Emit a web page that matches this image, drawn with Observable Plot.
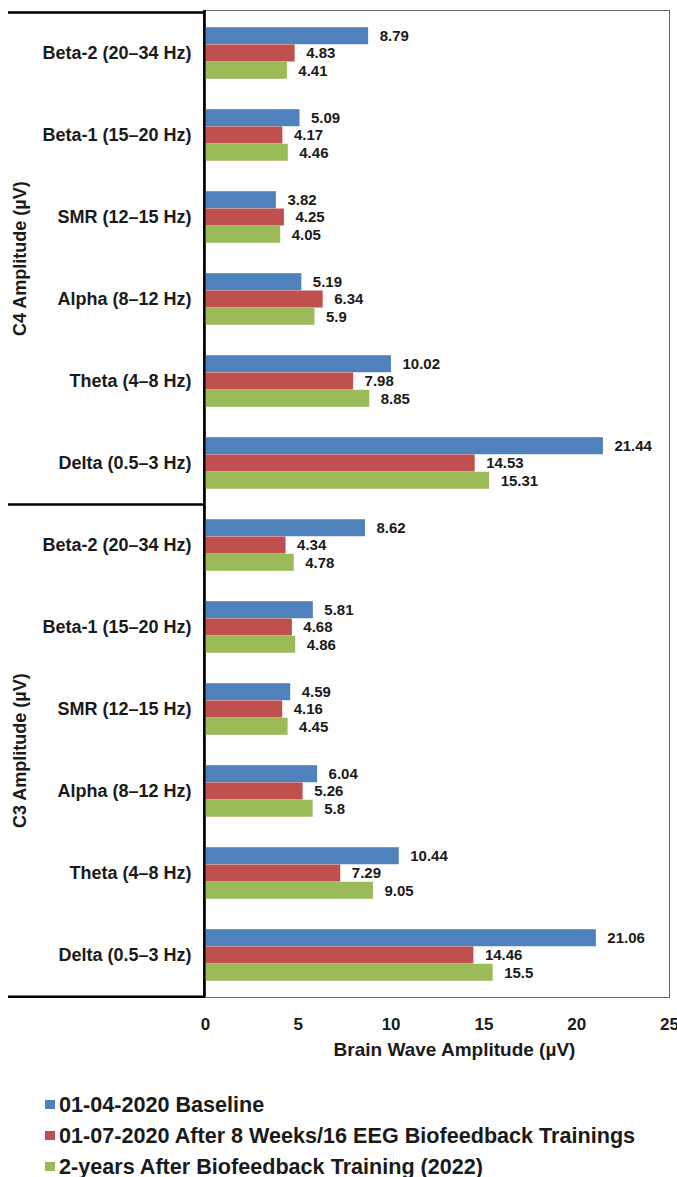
<!DOCTYPE html>
<html>
<head>
<meta charset="utf-8">
<script src="https://cdn.jsdelivr.net/npm/d3@7"></script>
<script src="https://cdn.jsdelivr.net/npm/@observablehq/plot@0.6"></script>
<style>
  html, body { margin: 0; padding: 0; background: #fff; overflow: hidden; width: 677px; }
  #chart svg { display: block; }
  .legend { padding: 9px 0 0 45px; font: bold 21.6px "Liberation Sans", Arial, sans-serif; color: #1a1a1a; }
  .legend .item { display: flex; align-items: center; height: 31px; white-space: nowrap; }
  .legend .sw { width: 10px; height: 9px; margin-right: 4px; flex: none; }
</style>
</head>
<body>
<div id="chart"></div>
<div class="legend" id="legend"></div>
<script>
// Frequency bands, top to bottom within each electrode group
const categories = [
  "Beta-2 (20–34 Hz)",
  "Beta-1 (15–20 Hz)",
  "SMR (12–15 Hz)",
  "Alpha (8–12 Hz)",
  "Theta (4–8 Hz)",
  "Delta (0.5–3 Hz)"
];
const groups = ["C4 Amplitude (µV)", "C3 Amplitude (µV)"];
const series = [
  "01-04-2020 Baseline",
  "01-07-2020 After 8 Weeks/16 EEG Biofeedback Trainings",
  "2-years After Biofeedback Training (2022)"
];
const colors = ["#4F81BD", "#C0504D", "#9BBB59"];

// Amplitudes (µV), in category order
const c4Baseline = [8.79, 5.09, 3.82, 5.19, 10.02, 21.44];
const c4After8Weeks = [4.83, 4.17, 4.25, 6.34, 7.98, 14.53];
const c4TwoYears = [4.41, 4.46, 4.05, 5.9, 8.85, 15.31];
const c3Baseline = [8.62, 5.81, 4.59, 6.04, 10.44, 21.06];
const c3After8Weeks = [4.34, 4.68, 4.16, 5.26, 7.29, 14.46];
const c3TwoYears = [4.78, 4.86, 4.45, 5.8, 9.05, 15.5];

const xTicks = [0, 5, 10, 15, 20, 25];
const xTitle = "Brain Wave Amplitude (µV)";

const valuesByGroup = [
  [c4Baseline, c4After8Weeks, c4TwoYears],
  [c3Baseline, c3After8Weeks, c3TwoYears]
];

const rowKey = (g, c) => g + "|" + c;
const rowKeys = groups.flatMap(g => categories.map(c => rowKey(g, c)));

const data = [];
groups.forEach((g, gi) => {
  categories.forEach((c, ci) => {
    series.forEach((s, si) => {
      data.push({row: rowKey(g, c), series: s, si, value: valuesByGroup[gi][si][ci]});
    });
  });
});

// Layout
const W = 677, H = 1080;
const mT = 10, mB = 83, mL = 205, mR = 8;
const bw = (H - mT - mB) / rowKeys.length;   // band height per frequency row
const groupTop = 0.185;                       // gap above the three bars, fraction of band
const barFrac = 0.21;                         // one bar's thickness, fraction of band
const font = '"Liberation Sans", Arial, sans-serif';
const ink = "#1a1a1a";

const barMarks = series.map((s, i) =>
  Plot.barX(data.filter(d => d.si === i), {
    x: "value",
    y: "row",
    fill: "series",
    insetTop: bw * (groupTop + i * barFrac),
    insetBottom: bw * (1 - groupTop - (i + 1) * barFrac)
  })
);

const labelMarks = series.map((s, i) =>
  Plot.text(data.filter(d => d.si === i), {
    x: "value",
    y: "row",
    text: d => String(d.value),
    dx: 11,
    dy: bw * (groupTop + (i + 0.5) * barFrac - 0.5),
    textAnchor: "start",
    fontSize: 15,
    fontWeight: "bold",
    fill: ink
  })
);

const lastGroup = groups[groups.length - 1];
const lastCat = categories[categories.length - 1];
const midCat = categories[categories.length / 2 - 1];

const plot = Plot.plot({
  width: W,
  height: H,
  marginTop: mT,
  marginBottom: mB,
  marginLeft: mL,
  marginRight: mR,
  style: {fontFamily: font, color: ink, background: "#fff"},
  x: {domain: [0, 25]},
  y: {domain: rowKeys, padding: 0},
  color: {domain: series, range: colors},
  marks: [
    Plot.frame({stroke: "#6b6b6b", strokeWidth: 1}),
    ...barMarks,
    ...labelMarks,
    Plot.axisY({
      tickSize: 0,
      tickPadding: 14,
      tickFormat: k => k.split("|")[1],
      fontSize: 18,
      fontWeight: "bold",
      label: null
    }),
    Plot.axisX(xTicks, {
      tickSize: 0,
      tickPadding: 20,
      fontSize: 17,
      fontWeight: "bold",
      label: null
    }),
    Plot.text([xTitle], {
      text: d => d,
      frameAnchor: "bottom",
      dx: 17,
      dy: 58,
      fontSize: 19,
      fontWeight: "bold",
      fill: ink
    }),
    // electrode group titles, rotated, centred on each group's rows
    Plot.text(groups, {
      y: g => rowKey(g, midCat),
      text: g => g,
      frameAnchor: "left",
      dx: -185,
      dy: bw / 2,
      rotate: -90,
      textAnchor: "middle",
      fontSize: 18,
      fontWeight: "bold",
      fill: ink
    }),
    // category box: black lines on the left edge and between groups
    Plot.ruleX([0], {stroke: "#000", strokeWidth: 2.5, dx: -1.2}),
    Plot.ruleY(groups.map(g => rowKey(g, categories[0])), {
      x1: 0, x2: 0, insetLeft: -197, dy: -bw / 2, stroke: "#000", strokeWidth: 2.5
    }),
    Plot.ruleY([rowKey(lastGroup, lastCat)], {
      x1: 0, x2: 0, insetLeft: -197, dy: bw / 2, stroke: "#000", strokeWidth: 2.5
    })
  ]
});

document.getElementById("chart").appendChild(plot);

// Legend under the chart
const legend = d3.select("#legend");
series.forEach((s, i) => {
  const item = legend.append("div").attr("class", "item");
  item.append("span").attr("class", "sw").style("background", colors[i]);
  item.append("span").text(s);
});
</script>
</body>
</html>
